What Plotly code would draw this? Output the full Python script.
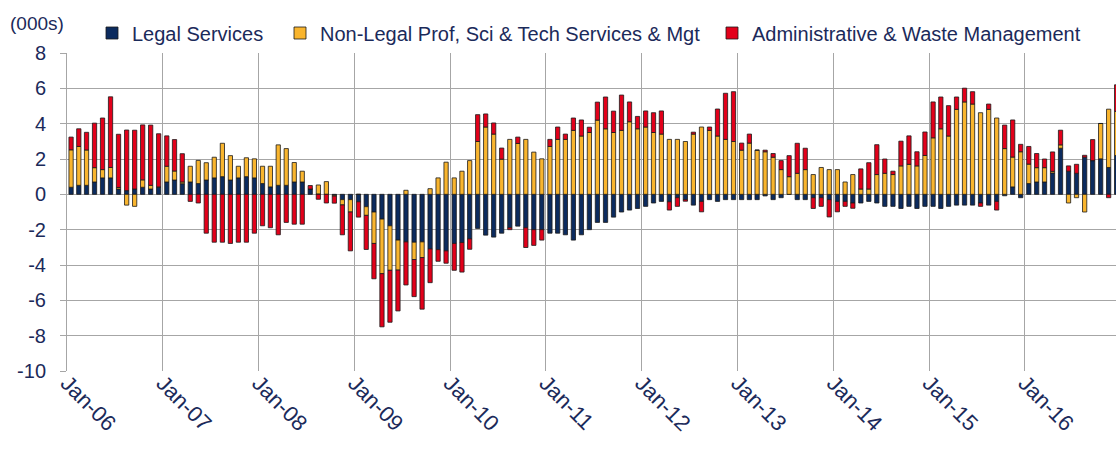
import pandas as pd
import plotly.graph_objects as go

months = pd.date_range("2006-01-01", periods=132, freq="MS")

legal_services = [
    0.40, 0.51, 0.51, 0.70, 0.93, 0.93, 0.30, 0.21, 0.30, 0.40, 0.30, 0.40,
    0.70, 0.81, 0.60, 0.70, 0.61, 0.81, 0.93, 1.00, 0.81, 0.93, 1.00, 0.93,
    0.61, 0.42, 0.51, 0.51, 0.70, 0.70, 0.30, 0.02, 0.00, -0.05, -0.30, -0.30,
    -0.42, -0.70, -1.00, -1.40, -1.78, -2.59, -2.69, -2.71, -2.69, -3.09, -3.13, -3.20,
    -2.78, -2.73, -2.52, -1.93, -2.31, -2.42, -2.20, -1.89, -1.80, -1.89, -2.00, -2.00,
    -2.20, -2.20, -2.29, -2.59, -2.29, -2.00, -1.59, -1.59, -1.29, -1.00, -0.89, -0.80,
    -0.68, -0.49, -0.40, -0.42, -0.19, -0.30, -0.61, -0.40, -0.30, -0.40, -0.30, -0.30,
    -0.30, -0.30, -0.30, -0.09, -0.30, -0.19, 0.00, -0.30, -0.30, -0.19, -0.19, -0.30,
    -0.40, -0.40, -0.49, -0.49, -0.40, -0.49, -0.68, -0.68, -0.80, -0.68, -0.80, -0.68,
    -0.68, -0.80, -0.68, -0.61, -0.61, -0.61, -0.49, -0.61, -0.40, -0.08, 0.42, -0.19,
    0.61, 0.70, 0.70, 1.21, 2.61, 1.31, 1.19, 2.10, 1.91, 2.01, 1.52, 2.20,
]

non_legal = [
    2.12, 2.20, 2.00, 0.81, 0.47, 0.59, 0.09, -0.61, -0.68, 0.42, 0.21, 0.02,
    0.89, 0.51, 0.10, 0.89, 1.31, 0.98, 1.17, 1.89, 1.38, 0.66, 1.07, 1.08,
    0.98, 1.17, 2.29, 2.08, 1.10, 0.61, 0.00, 0.51, 0.72, -0.05, -0.30, -0.70,
    0.00, -0.49, -1.78, -3.09, -2.52, -1.70, 0.23, -0.98, -0.89, 0.32, 0.93, 1.82,
    0.93, 1.31, 1.91, 2.99, 3.81, 3.41, 1.99, 3.11, 2.88, 3.11, 2.39, 2.01,
    2.71, 3.11, 3.11, 3.62, 3.30, 3.50, 4.20, 3.71, 3.50, 3.62, 4.11, 3.71,
    3.81, 3.50, 3.41, 3.11, 3.11, 2.99, 3.41, 3.81, 3.62, 3.30, 3.11, 2.99,
    2.50, 2.90, 2.50, 2.41, 2.10, 1.40, 1.00, 1.19, 1.40, 1.12, 1.52, 1.40,
    1.40, 0.70, 1.12, 0.30, 0.30, 1.12, 1.19, 1.12, 1.61, 1.70, 1.61, 2.20,
    3.20, 3.71, 3.30, 4.81, 5.23, 5.11, 4.62, 4.81, 4.32, 2.59, 1.69, 2.41,
    1.10, 0.81, 0.81, 0.09, 0.19, -0.49, -0.19, -1.00, 0.00, 2.00, 3.30, 2.50,
]

admin_waste = [
    0.72, 1.00, 1.00, 2.52, 2.92, 4.00, 3.01, 3.43, 3.33, 3.11, 3.41, 3.01,
    1.72, 1.78, 1.60, -0.40, -0.49, -2.20, -2.71, -2.71, -2.78, -2.71, -2.71, -2.20,
    -1.78, -1.89, -2.29, -1.59, -1.69, -1.69, 0.20, -0.28, -0.49, -0.40, -1.69, -2.20,
    -0.87, -1.93, -2.00, -3.01, -2.94, -2.31, -2.44, -2.10, -2.92, -1.91, -0.66, -0.70,
    -1.52, -1.67, -0.59, 1.52, 0.74, 0.63, 0.63, -0.11, 0.36, -1.12, -0.89, -0.59,
    0.40, 0.70, 0.30, 0.70, 0.91, 0.30, 1.02, 1.80, 1.21, 2.00, 1.12, 0.70,
    0.91, 1.12, 1.31, -0.47, -0.49, -0.09, 0.11, -0.59, 0.19, 1.53, 2.61, 2.82,
    0.40, 0.51, 0.00, 0.09, 0.21, 0.51, 1.19, 1.70, 1.21, -0.61, -0.49, -0.98,
    -0.59, -0.28, -0.30, 1.14, 1.49, 1.69, 0.81, 0.19, 1.40, 1.61, 0.80, 1.33,
    2.03, 1.80, 1.72, 0.70, 0.78, 0.70, -0.19, 0.30, -0.49, 1.33, 2.10, 0.42,
    1.00, 0.80, 0.49, 1.10, 0.83, 0.30, 0.51, 0.11, 1.19, 0.00, -0.19, 1.50,
]

series_names = [
    "Legal Services",
    "Non-Legal Prof, Sci & Tech Services & Mgt",
    "Administrative & Waste Management",
]
series_colors = ["#0C2B5E", "#F9B52E", "#E2001A"]
series_values = [legal_services, non_legal, admin_waste]

y_tick_values = [8, 6, 4, 2, 0, -2, -4, -6, -8, -10]
y_tick_labels = ["8", "6", "4", "2", "0", "-2", "-4", "-6", "-8", "-10"]

text_color = "#1B2A5A"
font_family = "Liberation Sans, Arial, sans-serif"
grid_color = "#A6A6A6"

W, H = 1116, 449
ML, MR, MT, MB = 67, 0, 53, 78
plot_w = W - ML - MR
plot_h = H - MT - MB

legend_ids = ["legend", "legend2", "legend3"]
legend_left_px = [92, 280, 712]
legend_mid_px = 33

fig = go.Figure()
for name, vals, color, lid in zip(series_names, series_values, series_colors, legend_ids):
    fig.add_bar(
        x=months,
        y=vals,
        name=name,
        legend=lid,
        xperiod="M1",
        xperiodalignment="middle",
        marker=dict(color=color, line=dict(color="#1A1A1A", width=0.8)),
    )

legend_layouts = {}
for lid, lx in zip(legend_ids, legend_left_px):
    legend_layouts[lid] = dict(
        orientation="h",
        x=(lx - ML) / plot_w,
        xanchor="left",
        y=1 + (MT - legend_mid_px) / plot_h,
        yanchor="middle",
        font=dict(size=20, color=text_color, family=font_family),
        bgcolor="rgba(0,0,0,0)",
        borderwidth=0,
    )

fig.update_layout(
    width=W,
    height=H,
    barmode="relative",
    bargap=0.45,
    plot_bgcolor="white",
    paper_bgcolor="white",
    margin=dict(l=ML, r=MR, t=MT, b=MB, autoexpand=False),
    font=dict(family=font_family, size=20, color=text_color),
    showlegend=True,
    annotations=[
        dict(
            text="(000s)",
            xref="paper",
            yref="paper",
            x=(8 - ML) / plot_w,
            y=1 + (MT - 23) / plot_h,
            xanchor="left",
            yanchor="middle",
            showarrow=False,
            font=dict(size=19, color=text_color),
        )
    ],
    **legend_layouts,
)

fig.update_xaxes(
    type="date",
    range=["2006-01-01", "2016-12-14"],
    tick0="2006-01-01",
    dtick="M12",
    tickformat="%b-%y",
    tickangle=45,
    showgrid=True,
    gridcolor=grid_color,
    gridwidth=1,
    showline=False,
    zeroline=False,
    ticks="",
    ticklabelstandoff=-6,
    automargin=False,
    tickfont=dict(size=22, color=text_color),
)

fig.update_yaxes(
    range=[-10, 8],
    tickvals=y_tick_values,
    ticktext=y_tick_labels,
    showgrid=True,
    gridcolor=grid_color,
    gridwidth=1,
    zeroline=False,
    showline=True,
    linecolor=grid_color,
    linewidth=1,
    ticks="outside",
    ticklen=6,
    tickcolor=grid_color,
    ticklabelstandoff=10,
    automargin=False,
    tickfont=dict(size=20, color=text_color),
)

fig.write_html(
    "out.html",
    config={"displayModeBar": False},
    post_script="document.body.style.margin='0';document.body.style.padding='0';document.body.style.overflow='hidden';",
)
